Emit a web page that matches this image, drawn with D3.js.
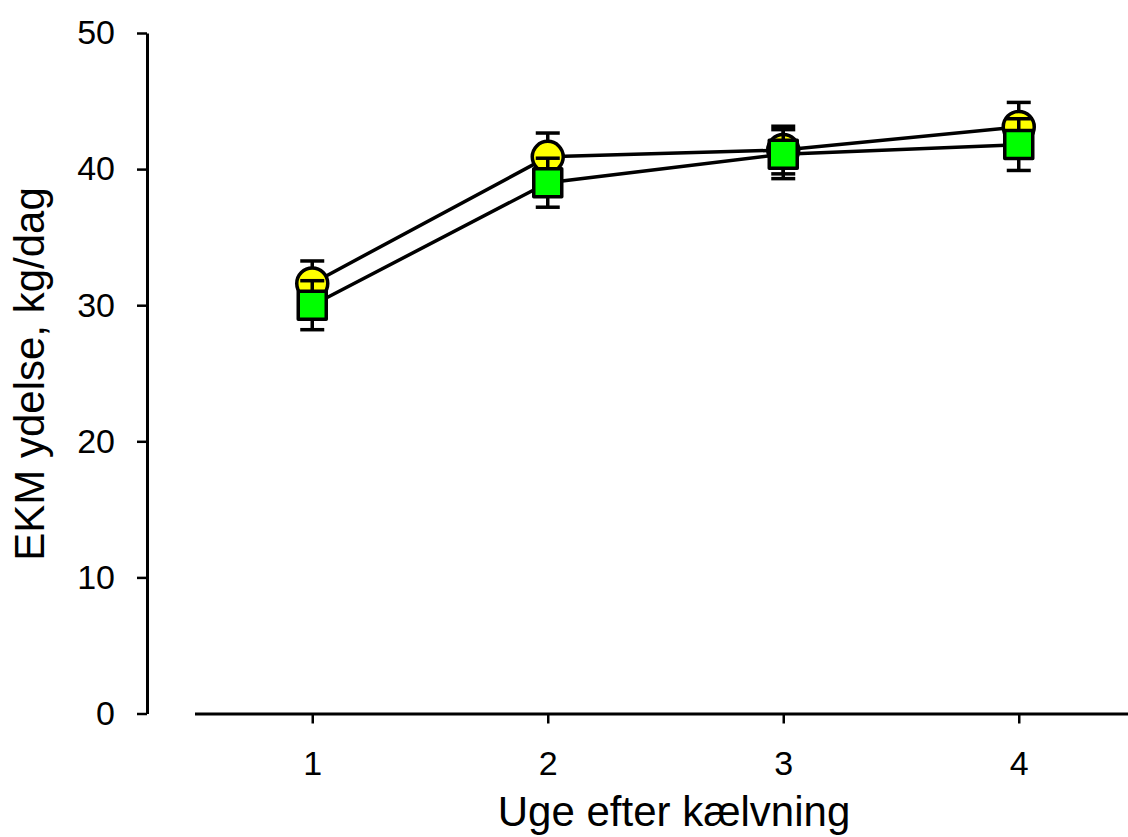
<!DOCTYPE html>
<html>
<head>
<meta charset="utf-8">
<script src="https://cdn.jsdelivr.net/npm/d3@7"></script>
<style>
  html, body { margin: 0; padding: 0; background: #fff; }
  svg { display: block; }
</style>
</head>
<body>
<svg id="chart" width="1128" height="837"></svg>
<script>
// ---- data ----
const weeks = [1, 2, 3, 4];
const circleMeans = [31.6, 40.9, 41.4, 43.1];
const circleErr = [1.65, 1.75, 1.75, 1.8];
const squareMeans = [30.0, 39.0, 41.1, 41.8];
const squareErr = [1.8, 1.8, 1.8, 1.9];
const yTicks = [0, 10, 20, 30, 40, 50];
const xTicks = [1, 2, 3, 4];
const xTitle = "Uge efter kælvning";
const yTitle = "EKM ydelse, kg/dag";

const svg = d3.select("#chart");
const font = "'Liberation Sans', Arial, sans-serif";

const x = d3.scaleLinear().domain([0.5, 4.5]).range([194.5, 1136.5]);
const y = d3.scaleLinear().domain([0, 50]).range([713.5, 33]);

// Y axis
const yAxis = svg.append("g")
  .attr("transform", "translate(147,0)")
  .call(d3.axisLeft(y).tickValues(yTicks).tickSize(10).tickSizeOuter(0).tickPadding(22));
yAxis.select(".domain").attr("stroke", "#000").attr("stroke-width", 3);
yAxis.selectAll(".tick line").attr("stroke", "#000").attr("stroke-width", 2.5);
yAxis.selectAll(".tick text").attr("font-family", font).attr("font-size", 34).attr("fill", "#000");

// X axis
const xAxis = svg.append("g")
  .attr("transform", "translate(0,713.5)")
  .call(d3.axisBottom(x).tickValues(xTicks).tickFormat(d3.format("d")).tickSize(10).tickSizeOuter(0).tickPadding(27));
xAxis.select(".domain").attr("stroke", "#000").attr("stroke-width", 3);
xAxis.selectAll(".tick line").attr("stroke", "#000").attr("stroke-width", 2.5);
xAxis.selectAll(".tick text").attr("font-family", font).attr("font-size", 34).attr("fill", "#000");

// Titles
svg.append("text")
  .attr("x", 674).attr("y", 826)
  .attr("text-anchor", "middle")
  .attr("font-family", font).attr("font-size", 42)
  .text(xTitle);
svg.append("text")
  .attr("transform", "translate(44,374) rotate(-90)")
  .attr("text-anchor", "middle")
  .attr("font-family", font).attr("font-size", 42)
  .text(yTitle);

const circleData = weeks.map((w, i) => ({ w, v: circleMeans[i], e: circleErr[i] }));
const squareData = weeks.map((w, i) => ({ w, v: squareMeans[i], e: squareErr[i] }));

const line = d3.line().x(d => x(d.w)).y(d => y(d.v));

// lines
[circleData, squareData].forEach(data => {
  svg.append("path").datum(data)
    .attr("d", line)
    .attr("fill", "none")
    .attr("stroke", "#000")
    .attr("stroke-width", 3.5);
});

function errorBars(data) {
  const g = svg.append("g").attr("stroke", "#000").attr("stroke-width", 3.5);
  g.selectAll("line.v").data(data).join("line")
    .attr("x1", d => x(d.w)).attr("x2", d => x(d.w))
    .attr("y1", d => y(d.v - d.e)).attr("y2", d => y(d.v + d.e));
  g.selectAll("line.t").data(data).join("line")
    .attr("x1", d => x(d.w) - 12).attr("x2", d => x(d.w) + 12)
    .attr("y1", d => y(d.v + d.e)).attr("y2", d => y(d.v + d.e));
  g.selectAll("line.b").data(data).join("line")
    .attr("x1", d => x(d.w) - 12).attr("x2", d => x(d.w) + 12)
    .attr("y1", d => y(d.v - d.e)).attr("y2", d => y(d.v - d.e));
}

// circle series
errorBars(circleData);
svg.append("g").selectAll("circle").data(circleData).join("circle")
  .attr("cx", d => x(d.w)).attr("cy", d => y(d.v)).attr("r", 15.5)
  .attr("fill", "#ffff00").attr("stroke", "#000").attr("stroke-width", 3.5);

// square series
errorBars(squareData);
const s = 28;
svg.append("g").selectAll("rect").data(squareData).join("rect")
  .attr("x", d => x(d.w) - s / 2).attr("y", d => y(d.v) - s / 2)
  .attr("width", s).attr("height", s)
  .attr("fill", "#00ff00").attr("stroke", "#000").attr("stroke-width", 3.5)
  .attr("stroke-linejoin", "round");
</script>
</body>
</html>
